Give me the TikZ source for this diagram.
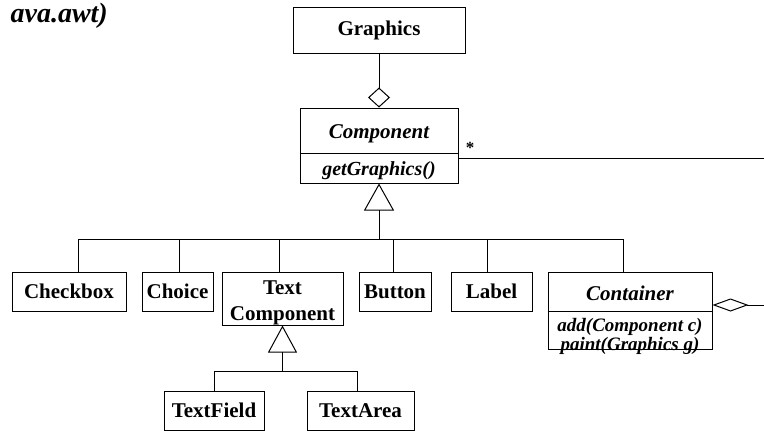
\documentclass[tikz,border=0pt]{standalone}
\usepackage{fontspec}
\setmainfont{Liberation Serif}
\usetikzlibrary{arrows.meta}
\tikzset{
  box/.style={draw, line width=1pt, inner sep=0pt, font=\fontsize{21}{23}\selectfont\bfseries},
  meth/.style={inner sep=0pt, anchor=base, font=\fontsize{19}{21}\selectfont\bfseries\itshape},
  ttl/.style={inner sep=0pt, anchor=base, font=\fontsize{21}{23}\selectfont\bfseries\itshape},
  plain/.style={inner sep=0pt, anchor=base, font=\fontsize{21}{23}\selectfont\bfseries},
  conn/.style={line width=1pt},
  gen/.style={{Triangle[open,length=27pt,width=30pt]}-},
}
\begin{document}
\begin{tikzpicture}[x=1pt,y=-1pt]
\useasboundingbox (0,0) rectangle (764,431);
% title
\node[inner sep=0pt, anchor=base east, font=\fontsize{28}{30}\selectfont\bfseries\itshape] (pkg) at (108,22) {ava.awt)};
% Graphics
\node[box, minimum width=172pt, minimum height=46pt] (Graphics) at (379,30) {Graphics};
% Component
\node[box, minimum width=158pt, minimum height=75pt] (Component) at (379,145.5) {};
\node[ttl] (compT) at (379,138) {Component};
\node[meth, font=\fontsize{20}{22}\selectfont\bfseries\itshape] (compM) at (379,175) {getGraphics()};
\coordinate (compDiv) at (379,153);
\draw[conn] (Component.west |- compDiv) -- (Component.east |- compDiv);
% children
\node[box, minimum width=114pt, minimum height=39pt] (Checkbox) at (69,291.5) {Checkbox};
\node[box, minimum width=71pt, minimum height=39pt] (Choice) at (177.5,291.5) {Choice};
\node[box, minimum width=121pt, minimum height=53pt] (TextComponent) at (282.5,298.5) {};
\node[plain] (tcA) at (282.5,294) {Text};
\node[plain] (tcB) at (282.5,320) {Component};
\node[box, minimum width=72pt, minimum height=39pt] (Button) at (395,291.5) {Button};
\node[box, minimum width=81pt, minimum height=39pt] (Label) at (491.5,291.5) {Label};
% Container
\node[box, minimum width=164pt, minimum height=77pt] (Container) at (630,310.5) {};
\node[ttl] (contT) at (630,300) {Container};
\node[meth] (contM1) at (630,331) {add(Component c)};
\node[meth] (contM2) at (630,350) {paint(Graphics g)};
\coordinate (contDiv) at (630,311);
\draw[conn] (Container.west |- contDiv) -- (Container.east |- contDiv);
% grandchildren
\node[box, minimum width=100pt, minimum height=39pt] (TextField) at (214,410.5) {TextField};
\node[box, minimum width=107pt, minimum height=39pt] (TextArea) at (360.5,410.5) {TextArea};
% aggregation Graphics - Component
\draw[conn, -{Diamond[open,length=20pt,width=22pt]}] (Graphics.south) -- (Component.north);
% generalization tree
\coordinate (bus) at (379,239);
\draw[conn, gen] (Component.south) -- (bus);
\draw[conn] ([xshift=9pt]Checkbox.north) |- (bus);
\draw[conn] ([xshift=1.5pt]Choice.north) |- (bus);
\draw[conn] ([xshift=-3.5pt]TextComponent.north) |- (bus);
\draw[conn] ([xshift=-2pt]Button.north) |- (bus);
\draw[conn] ([xshift=-4.5pt]Label.north) |- (bus);
\draw[conn] ([xshift=-7pt]Container.north) |- (bus);
% TextComponent subtree
\coordinate (tbus) at (282.5,371);
\draw[conn, {Triangle[open,length=27pt,width=29pt]}-] (TextComponent.south) -- (tbus);
\draw[conn] (TextField.north) |- (tbus);
\draw[conn] ([xshift=-3.5pt]TextArea.north) |- (tbus);
% association to the right
\coordinate (rightA) at (764,158);
\draw[conn] (Component.east |- rightA) -- (rightA);
\node[inner sep=0pt, font=\fontsize{17}{19}\selectfont\bfseries] (star) at (470,148) {*};
% Container aggregation
\coordinate (rightB) at (764,305);
\draw[conn, {Diamond[open,length=36pt,width=13pt]}-] (Container.east |- rightB) -- (rightB);
\end{tikzpicture}
\end{document}
